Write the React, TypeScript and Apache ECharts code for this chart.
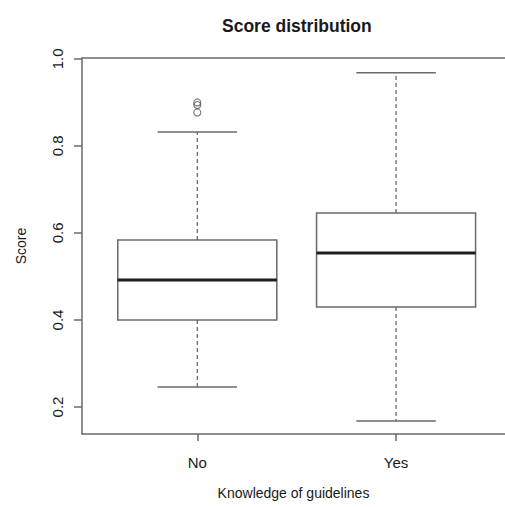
import React, { useEffect, useRef } from "react";
import * as echarts from "echarts";

const categories = ["No", "Yes"];
const lowerWhisker = [0.246, 0.168];
const q1 = [0.4, 0.43];
const medians = [0.492, 0.554];
const q3 = [0.584, 0.646];
const upperWhisker = [0.832, 0.968];
const outlierGroup = [1, 1, 1];
const outlierValues = [0.9, 0.894, 0.877];
const yTicks = [0.2, 0.4, 0.6, 0.8, 1.0];
const xTicks = [1, 2];

const LINE = "#6a6a6a";
const TEXT = "#1a1a1a";
const FONT = "Liberation Sans, Arial, sans-serif";

export default function App() {
  const ref = useRef<HTMLDivElement>(null);
  useEffect(() => {
    if (!ref.current) return;
    const chart = echarts.init(ref.current, null, { renderer: "svg" });
    const boxData = categories.map((_, i) => [
      i + 1,
      lowerWhisker[i],
      q1[i],
      medians[i],
      q3[i],
      upperWhisker[i],
    ]);
    const outlierData = outlierValues.map((v, i) => [outlierGroup[i], v]);

    chart.setOption({
      animation: false,
      backgroundColor: "#ffffff",
      title: {
        text: "Score distribution",
        left: 222,
        top: 17,
        padding: 0,
        textStyle: { fontFamily: FONT, fontSize: 17.5, fontWeight: "bold", color: TEXT },
      },
      grid: { left: 82, top: 58, right: 0, height: 376 },
      xAxis: [
        {
          type: "value",
          min: 0.42,
          max: 2.548,
          position: "bottom",
          name: "Knowledge of guidelines",
          nameLocation: "middle",
          nameGap: 52,
          nameTextStyle: { fontFamily: FONT, fontSize: 14, color: TEXT },
          axisLine: { show: true, lineStyle: { color: LINE, width: 1.5 } },
          axisTick: {
            show: true,
            length: 7,
            customValues: xTicks,
            lineStyle: { color: LINE, width: 1.5 },
          },
          axisLabel: {
            customValues: xTicks,
            margin: 21,
            fontFamily: FONT,
            fontSize: 15,
            color: TEXT,
            formatter: (v: number) => categories[Math.round(v) - 1] ?? "",
          },
          splitLine: { show: false },
        },
        {
          type: "value",
          min: 0.42,
          max: 2.548,
          position: "top",
          axisLine: { show: true, lineStyle: { color: LINE, width: 1.5 } },
          axisTick: { show: false },
          axisLabel: { show: false },
          splitLine: { show: false },
        },
      ],
      yAxis: {
        type: "value",
        min: 0.138,
        max: 1.002,
        name: "Score",
        nameLocation: "middle",
        nameGap: 54,
        nameTextStyle: { fontFamily: FONT, fontSize: 14, color: TEXT },
        axisLine: { show: true, lineStyle: { color: LINE, width: 1.5 } },
        axisTick: {
          show: true,
          length: 8,
          customValues: yTicks,
          lineStyle: { color: LINE, width: 1.5 },
        },
        axisLabel: {
          customValues: yTicks,
          rotate: 90,
          margin: 17,
          fontFamily: FONT,
          fontSize: 15,
          color: TEXT,
          formatter: (v: number) => v.toFixed(1),
        },
        splitLine: { show: false },
      },
      series: [
        {
          type: "custom",
          data: boxData,
          renderItem: (params: any, api: any) => {
            const x = api.value(0);
            const lo = api.value(1);
            const a = api.value(2);
            const m = api.value(3);
            const b = api.value(4);
            const hi = api.value(5);
            const p = (xx: number, yy: number) => api.coord([xx, yy]);
            const boxTL = p(x - 0.4, b);
            const boxBR = p(x + 0.4, a);
            const dash = { stroke: LINE, lineWidth: 1.3, lineDash: [4, 3] };
            const solid = { stroke: LINE, lineWidth: 1.5 };
            const c = p(x, 0);
            return {
              type: "group",
              children: [
                {
                  type: "line",
                  shape: { x1: c[0], y1: p(x, b)[1], x2: c[0], y2: p(x, hi)[1] },
                  style: dash,
                },
                {
                  type: "line",
                  shape: { x1: c[0], y1: p(x, a)[1], x2: c[0], y2: p(x, lo)[1] },
                  style: dash,
                },
                {
                  type: "line",
                  shape: { x1: p(x - 0.2, hi)[0], y1: p(x, hi)[1], x2: p(x + 0.2, hi)[0], y2: p(x, hi)[1] },
                  style: solid,
                },
                {
                  type: "line",
                  shape: { x1: p(x - 0.2, lo)[0], y1: p(x, lo)[1], x2: p(x + 0.2, lo)[0], y2: p(x, lo)[1] },
                  style: solid,
                },
                {
                  type: "rect",
                  shape: {
                    x: boxTL[0],
                    y: boxTL[1],
                    width: boxBR[0] - boxTL[0],
                    height: boxBR[1] - boxTL[1],
                  },
                  style: { fill: "#ffffff", stroke: LINE, lineWidth: 1.5 },
                },
                {
                  type: "line",
                  shape: { x1: boxTL[0], y1: p(x, m)[1], x2: boxBR[0], y2: p(x, m)[1] },
                  style: { stroke: "#1e1e1e", lineWidth: 3 },
                },
              ],
            };
          },
        },
        {
          type: "scatter",
          data: outlierData,
          symbol: "circle",
          symbolSize: 7,
          itemStyle: { color: "rgba(255,255,255,0)", borderColor: "#555555", borderWidth: 1.1 },
        },
      ],
    });
    return () => chart.dispose();
  }, []);
  return (
    <div
      ref={ref}
      style={{ position: "fixed", left: 0, top: 0, width: 505, height: 507 }}
    />
  );
}
